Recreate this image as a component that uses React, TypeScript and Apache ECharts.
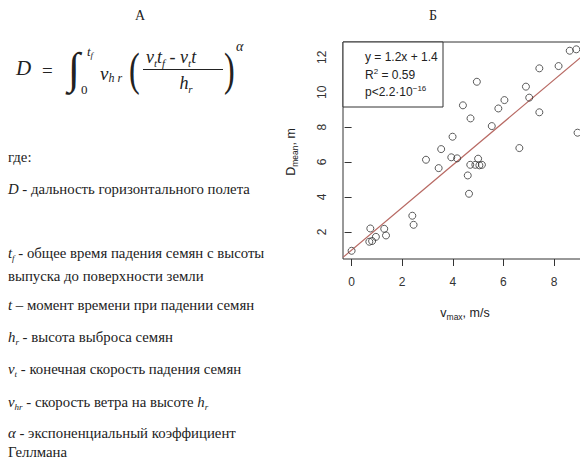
import React, { useEffect, useRef } from "react";
import * as echarts from "echarts";

const vMax = [0.0, 0.74, 0.70, 0.81, 0.96, 1.29, 1.36, 2.40, 2.45, 2.94, 3.44, 3.54, 3.99, 3.94, 4.17, 4.59, 4.64, 4.69, 4.89, 5.00, 5.05, 5.15, 6.63, 8.93, 8.62, 8.88, 8.18, 7.42, 6.89, 7.02, 7.42, 6.04, 5.80, 4.95, 4.40, 4.70, 5.54];
const dMean = [0.91, 2.19, 1.43, 1.47, 1.71, 2.17, 1.79, 2.92, 2.40, 6.13, 5.65, 6.74, 7.45, 6.27, 6.21, 5.23, 4.18, 5.84, 5.84, 6.19, 5.81, 5.84, 6.80, 7.68, 12.38, 12.46, 11.50, 11.37, 10.32, 9.69, 8.85, 9.55, 9.07, 10.60, 9.25, 8.50, 8.06];
const fitLine = { slope: 1.22, intercept: 0.95 };
const xRange = [-0.34, 9.6];
const yRange = [0.44, 12.88];
const xTicks = [0, 2, 4, 6, 8];
const yTicks = [2, 4, 6, 8, 10, 12];

const defLines = [
  { y: 157, text: "где:" },
  { y: 189, text: "{i|D} - дальность горизонтального полета" },
  { y: 253, text: "{i|t}{isub|f} - общее время падения семян с высоты" },
  { y: 276, text: "выпуска до поверхности земли" },
  { y: 305, text: "{i|t} – момент времени при падении семян" },
  { y: 337, text: "{i|h}{isub|r} - высота выброса семян" },
  { y: 369, text: "{i|v}{isub|t} - конечная скорость падения семян" },
  { y: 402, text: "{i|v}{isub|hr} - скорость ветра на высоте {i|h}{isub|r}" },
  { y: 433, text: "{i|α} - экспоненциальный коэффициент" },
  { y: 452, text: "Геллмана" },
];

const SERIF = "Liberation Serif";
const SANS = "Liberation Sans";
const TXT = "#222";
const DEF_FS = 14.8;

function txt(x: number, y: number, text: string, opts: any = {}) {
  const { rich, rotation, scaleX, align, ...style } = opts;
  return {
    type: "text",
    x,
    y,
    rotation: rotation || 0,
    scaleX: scaleX || 1,
    z: 100,
    style: {
      text,
      fill: TXT,
      fontFamily: SERIF,
      fontSize: 13,
      align: align || "left",
      textAlign: align || "left",
      verticalAlign: "middle",
      textVerticalAlign: "middle",
      rich,
      ...style,
    },
  };
}

export default function App() {
  const ref = useRef<HTMLDivElement>(null);
  useEffect(() => {
    if (!ref.current) return;
    const chart = echarts.init(ref.current, undefined, { renderer: "svg" });
    const pts = vMax.map((x, i) => [x, dMean[i]]);
    const lineData = xRange.map((x) => [x, fitLine.intercept + fitLine.slope * x]);

    const defRich = {
      i: { fontStyle: "italic", fontFamily: SERIF, fontSize: DEF_FS, fill: TXT, lineHeight: 18 },
      isub: { fontStyle: "italic", fontFamily: SERIF, fontSize: 9, fill: TXT, verticalAlign: "bottom", lineHeight: 9 },
    };
    const mathRich = (fs: number, sub: number) => ({
      sub: { fontStyle: "italic", fontFamily: SERIF, fontSize: sub, fill: TXT, verticalAlign: "bottom", lineHeight: sub },
      n: { fontStyle: "normal", fontFamily: SERIF, fontSize: fs, fill: TXT },
    });
    const supRich = { sup: { fontFamily: SANS, fontSize: 8, fill: TXT, verticalAlign: "top", lineHeight: 8 } };
    const subSans = { sub: { fontFamily: SANS, fontSize: 8.5, fill: TXT, verticalAlign: "bottom", lineHeight: 9 } };

    const graphics: any[] = [
      txt(140, 15, "А", { align: "center", fontSize: 14 }),
      txt(433, 15, "Б", { align: "center", fontSize: 14 }),
      // formula
      txt(16, 68, "D", { fontStyle: "italic", fontSize: 21 }),
      txt(42, 70, "=", { fontSize: 19 }),
      txt(74, 68, "∫", { align: "center", fontSize: 44, fontStyle: "italic" }),
      txt(87, 51, "t{sub|f}", { fontStyle: "italic", fontSize: 13, lineHeight: 16, rich: mathRich(13, 9) }),
      txt(81, 89, "0", { fontSize: 13 }),
      txt(100, 73, "v{sub|h r}", { fontStyle: "italic", fontSize: 19, lineHeight: 22, rich: mathRich(19, 12) }),
      txt(129, 70, "(", { fontSize: 46, scaleX: 0.7 }),
      txt(146, 57, "v{sub|t}t{sub|f}{n| - }v{sub|t}t", { fontStyle: "italic", fontSize: 18, lineHeight: 22, rich: mathRich(18, 11) }),
      {
        type: "line",
        z: 100,
        shape: { x1: 143, y1: 69.5, x2: 223, y2: 69.5 },
        style: { stroke: TXT, lineWidth: 1 },
      },
      txt(186, 83, "h{sub|r}", { align: "center", fontStyle: "italic", fontSize: 18, lineHeight: 22, rich: mathRich(18, 11) }),
      txt(224, 70, ")", { fontSize: 46, scaleX: 0.7 }),
      txt(236, 46, "α", { fontStyle: "italic", fontSize: 14 }),
      // definitions
      ...defLines.map((l) =>
        l.text.includes("{")
          ? txt(8, l.y, l.text, { rich: defRich, lineHeight: 18, fontSize: DEF_FS })
          : txt(8, l.y, l.text, { lineHeight: 13, fontSize: DEF_FS })
      ),
      // legend box
      {
        type: "rect",
        z: 90,
        shape: { x: 343, y: 42, width: 100, height: 65 },
        style: { fill: "#fff", stroke: "#333", lineWidth: 1 },
      },
      txt(365, 57, "y = 1.2x + 1.4", { fontFamily: SANS, fontSize: 12 }),
      txt(365, 75, "R{sup|2} = 0.59", { fontFamily: SANS, fontSize: 12, lineHeight: 16, rich: supRich }),
      txt(365, 92, "p<2.2·10{sup|−16}", { fontFamily: SANS, fontSize: 12, lineHeight: 16, rich: supRich }),
      // axis names
      txt(465, 313, "v{sub|max}, m/s", { align: "center", fontFamily: SANS, fontSize: 12.5, lineHeight: 16, rich: subSans }),
      txt(291, 152, "D{sub|mean}, m", {
        align: "center",
        rotation: Math.PI / 2,
        fontFamily: SANS,
        fontSize: 12.5,
        lineHeight: 16,
        rich: subSans,
      }),
    ];

    chart.setOption({
      animation: false,
      grid: {
        left: 343,
        top: 42,
        right: 45.5,
        bottom: 200,
        show: true,
        borderColor: "#333",
        borderWidth: 1,
        backgroundColor: "transparent",
      },
      xAxis: {
        type: "value",
        min: xRange[0],
        max: xRange[1],
        splitLine: { show: false },
        axisLine: { show: false },
        axisTick: { show: true, length: 7, customValues: xTicks, lineStyle: { color: "#333" } },
        axisLabel: { customValues: xTicks, margin: 17, fontSize: 12, color: "#333", fontFamily: SANS },
      },
      yAxis: {
        type: "value",
        min: yRange[0],
        max: yRange[1],
        splitLine: { show: false },
        axisLine: { show: false },
        axisTick: { show: true, length: 7, customValues: yTicks, lineStyle: { color: "#333" } },
        axisLabel: { customValues: yTicks, margin: 15, rotate: 90, fontSize: 12, color: "#333", fontFamily: SANS },
      },
      series: [
        {
          type: "scatter",
          data: pts,
          symbol: "circle",
          symbolSize: 7,
          itemStyle: { color: "transparent", borderColor: "#333", borderWidth: 1 },
          z: 3,
        },
        {
          type: "line",
          data: lineData,
          showSymbol: false,
          symbol: "none",
          clip: true,
          lineStyle: { color: "#b86a64", width: 1.2 },
          z: 2,
        },
      ],
      graphic: graphics,
    });
    return () => chart.dispose();
  }, []);

  return (
    <div style={{ position: "fixed", left: 0, top: 0, width: 580, height: 459, overflow: "hidden", background: "#fff" }}>
      <div ref={ref} style={{ position: "absolute", left: 0, top: 0, width: 640, height: 459 }} />
    </div>
  );
}
